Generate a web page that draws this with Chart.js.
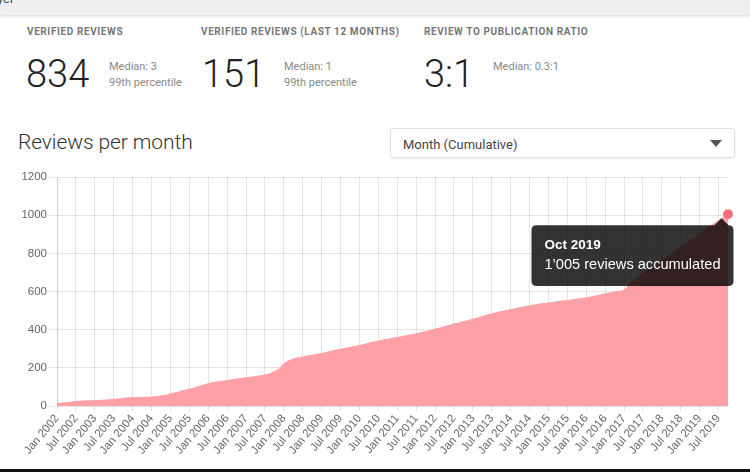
<!DOCTYPE html>
<html>
<head>
<meta charset="utf-8">
<script src="https://cdn.jsdelivr.net/npm/chart.js"></script>
<style>
  html, body { margin:0; padding:0; background:#fff; width:750px; height:472px; overflow:hidden; font-family: Roboto, "Noto Sans", sans-serif; }
  .abs { position:absolute; white-space:nowrap; }
  #topbar { position:absolute; left:0; top:0; width:750px; height:15px; background:#efefef; box-shadow:0 1px 3px rgba(0,0,0,0.18); }
  .lbl { font-size:10px; line-height:10px; font-weight:700; color:#777; letter-spacing:0.6px; }
  .big { font-size:38px; line-height:38px; font-weight:300; color:#222; }
  .sub { font-size:11px; line-height:11px; color:#888; }
  #title { font-size:21px; line-height:21px; font-weight:300; color:#333; letter-spacing:-0.1px; }
  #dropdown { position:absolute; left:390px; top:128px; width:343px; height:28px; border:1px solid #e2e2e2; border-radius:3px; box-shadow:0 1px 2px rgba(0,0,0,0.08); background:#fff; }
  #ddtext { font-size:13px; line-height:13px; color:#444; }
  #tri { position:absolute; left:710px; top:140px; width:0; height:0; border-left:6px solid transparent; border-right:6px solid transparent; border-top:7px solid #555; }
  #chartbox { position:absolute; left:0; top:160px; width:750px; height:309px; }
  #bottombar { position:absolute; left:0; top:469px; width:750px; height:3px; background:#111; }
</style>
</head>
<body>
<div id="topbar"><span class="abs" style="left:-3px;top:-9px;font-size:13px;color:#444;">yer</span></div>

<div class="abs lbl" style="left:27px;top:27px;">VERIFIED REVIEWS</div>
<div class="abs lbl" style="left:201px;top:27px;">VERIFIED REVIEWS (LAST 12 MONTHS)</div>
<div class="abs lbl" style="left:424px;top:27px;">REVIEW TO PUBLICATION RATIO</div>

<div class="abs big" style="left:26px;top:55px;">834</div>
<div class="abs sub" style="left:109px;top:61px;">Median: 3</div>
<div class="abs sub" style="left:109px;top:77px;">99th percentile</div>

<div class="abs big" style="left:202px;top:55px;">151</div>
<div class="abs sub" style="left:284px;top:61px;">Median: 1</div>
<div class="abs sub" style="left:284px;top:77px;">99th percentile</div>

<div class="abs big" style="left:424px;top:55px;">3:1</div>
<div class="abs sub" style="left:493px;top:61px;">Median: 0.3:1</div>

<div class="abs" id="title" style="left:18px;top:132px;">Reviews per month</div>
<div id="dropdown"></div>
<div class="abs" id="ddtext" style="left:403px;top:138px;">Month (Cumulative)</div>
<div id="tri"></div>

<div id="chartbox"><canvas id="c"></canvas></div>
<div id="bottombar"></div>

<script>
// ---- data ----
const monthNames = ['Jan','Feb','Mar','Apr','May','Jun','Jul','Aug','Sep','Oct','Nov','Dec'];
const years = [2002,2003,2004,2005,2006,2007,2008,2009,2010,2011,2012,2013,2014,2015,2016,2017,2018,2019];
const lastMonthIndex2019 = 9; // Oct 2019

const reviews2002 = [12, 14, 16, 18, 20, 22, 24, 25, 26, 27, 27, 28];
const reviews2003 = [28, 29, 30, 31, 32, 33, 35, 36, 38, 40, 42, 43];
const reviews2004 = [44, 44, 45, 45, 46, 46, 47, 48, 50, 53, 56, 59];
const reviews2005 = [63, 67, 71, 75, 80, 84, 88, 92, 97, 102, 107, 112];
const reviews2006 = [118, 121, 124, 127, 129, 131, 134, 136, 139, 142, 144, 146];
const reviews2007 = [148, 150, 152, 155, 157, 160, 162, 166, 172, 180, 188, 205];
const reviews2008 = [222, 232, 240, 246, 251, 254, 257, 260, 263, 266, 269, 272];
const reviews2009 = [275, 279, 283, 287, 291, 295, 298, 301, 304, 307, 310, 313];
const reviews2010 = [317, 321, 325, 329, 333, 337, 341, 344, 347, 350, 353, 356];
const reviews2011 = [359, 362, 365, 369, 372, 375, 378, 382, 386, 390, 394, 398];
const reviews2012 = [403, 407, 411, 416, 421, 425, 430, 434, 438, 442, 446, 450];
const reviews2013 = [455, 459, 464, 469, 474, 479, 483, 487, 491, 495, 499, 502];
const reviews2014 = [505, 508, 512, 515, 519, 522, 525, 528, 531, 534, 536, 538];
const reviews2015 = [540, 542, 544, 547, 549, 551, 553, 555, 558, 560, 563, 565];
const reviews2016 = [567, 570, 573, 577, 580, 584, 588, 591, 594, 597, 600, 603];
const reviews2017 = [606, 622, 645, 657, 669, 681, 693, 704, 716, 728, 739, 751];
const reviews2018 = [762, 774, 786, 797, 809, 820, 832, 843, 855, 866, 878, 890];
const reviews2019 = [902, 914, 926, 938, 950, 961, 972, 983, 994, 1005];

const yTicks = [0, 200, 400, 600, 800, 1000, 1200];

const cumulative = [].concat(reviews2002, reviews2003, reviews2004, reviews2005, reviews2006,
  reviews2007, reviews2008, reviews2009, reviews2010, reviews2011, reviews2012, reviews2013,
  reviews2014, reviews2015, reviews2016, reviews2017, reviews2018, reviews2019);

const labels = [];
years.forEach(y => {
  monthNames.forEach((m, i) => {
    if (y === 2019 && i > lastMonthIndex2019) return;
    labels.push(m + ' ' + y);
  });
});

function fmt(v) { return String(v).replace(/\B(?=(\d{3})+(?!\d))/g, '\u2019'); }

Chart.defaults.font.family = 'Helvetica Neue, Helvetica, Arial, "Liberation Sans", sans-serif';
Chart.defaults.color = '#666';

Chart.Tooltip.positioners.custom = function(elements) {
  if (!elements.length) return false;
  const el = elements[0].element;
  return { x: el.x - 6.5, y: el.y + 2 };
};

const gridCol = 'rgba(0,0,0,0.1)';

const chart = new Chart(document.getElementById('c'), {
  type: 'line',
  data: {
    labels: labels,
    datasets: [{
      data: cumulative,
      fill: 'origin',
      clip: false,
      backgroundColor: 'rgb(255,159,166)',
      borderColor: 'rgb(255,159,166)',
      borderWidth: 1,
      tension: 0,
      pointRadius: 0,
      pointHoverRadius: 5,
      pointHoverBorderWidth: 0,
      pointHoverBackgroundColor: 'rgb(246,112,126)',
      pointHoverBorderColor: 'rgb(246,112,126)'
    }]
  },
  options: {
    responsive: true,
    maintainAspectRatio: false,
    animation: false,
    events: [],
    layout: { padding: { top: 17, right: 22, left: 0, bottom: 0 } },
    plugins: {
      legend: { display: false },
      tooltip: {
        enabled: true,
        position: 'custom',
        xAlign: 'right',
        yAlign: 'top',
        backgroundColor: 'rgba(0,0,0,0.8)',
        titleFont: { size: 13.5, weight: 'bold' },
        bodyFont: { size: 14.6 },
        titleColor: '#fff',
        bodyColor: '#fff',
        titleMarginBottom: 3,
        padding: { x: 13, y: 12 },
        caretSize: 7,
        caretPadding: 2,
        cornerRadius: 5,
        displayColors: false,
        callbacks: {
          title: items => items[0].label,
          label: item => fmt(item.raw) + ' reviews accumulated'
        }
      }
    },
    scales: {
      x: {
        type: 'category',
        offset: false,
        afterFit: s => { s.height = 63; },
        grid: {
          color: ctx => (ctx.index % 6 === 0 ? gridCol : 'rgba(0,0,0,0)'),
          tickLength: 5
        },
        border: { display: false },
        ticks: {
          autoSkip: false,
          minRotation: 50,
          maxRotation: 50,
          padding: 1,
          color: '#666',
          font: { size: 11.5 },
          callback: function(v, i) { return i % 6 === 0 ? this.getLabelForValue(v) : ''; }
        }
      },
      y: {
        min: 0,
        max: 1200,
        afterFit: s => { s.width = 57; },
        afterBuildTicks: s => { s.ticks = yTicks.map(v => ({ value: v })); },
        grid: { color: gridCol, tickLength: 8 },
        border: { color: gridCol },
        ticks: { padding: 2, color: '#666', font: { size: 11.5 }, callback: v => String(v) }
      }
    }
  }
});

const idx = cumulative.length - 1;
chart.setActiveElements([{ datasetIndex: 0, index: idx }]);
const pt = chart.getDatasetMeta(0).data[idx];
chart.tooltip.setActiveElements([{ datasetIndex: 0, index: idx }], { x: pt.x, y: pt.y });
chart.update();
</script>
</body>
</html>
